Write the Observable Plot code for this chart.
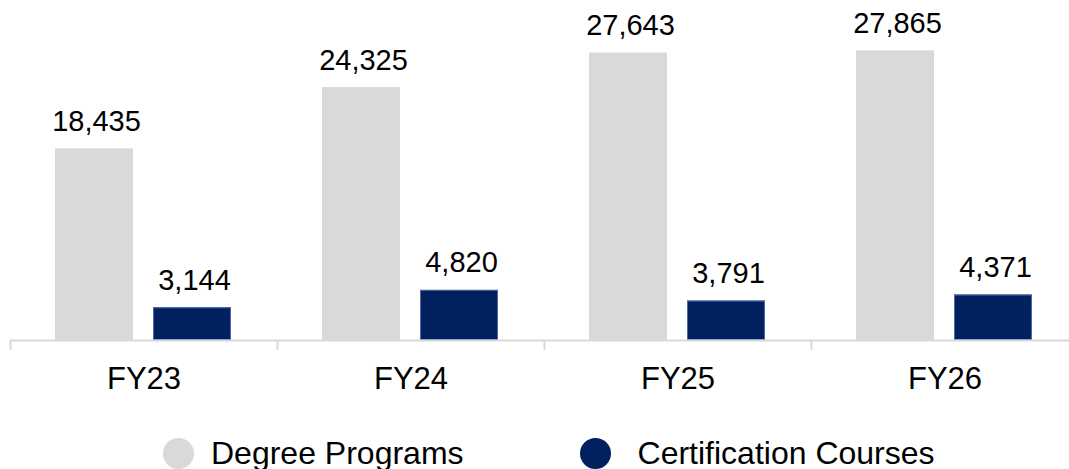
<!DOCTYPE html>
<html>
<head>
<meta charset="utf-8">
<script src="https://cdn.jsdelivr.net/npm/d3@7"></script>
<script src="https://cdn.jsdelivr.net/npm/@observablehq/plot@0.6"></script>
<style>
  html, body { margin: 0; padding: 0; background: #fff; overflow: hidden; }
  #chart svg { overflow: hidden; display: block; }
  .legend { display: flex; align-items: center; height: 44px; padding-top: 6px;
            font-family: Arial, "Liberation Sans", sans-serif; font-size: 32px; color: #000; }
  .sw { width: 31px; height: 31px; border-radius: 50%; display: inline-block; flex: none; }
</style>
</head>
<body>
<div id="chart"></div>
<div class="legend" id="legend"></div>
<script>
const years = ["FY23", "FY24", "FY25", "FY26"];
const series = ["Degree Programs", "Certification Courses"];
const degreePrograms = [18435, 24325, 27643, 27865];
const certificationCourses = [3144, 4820, 3791, 4371];
const colors = ["#d9d9d9", "#002060"];

const values = [degreePrograms, certificationCourses];
const data = years.flatMap((year, i) =>
  series.map((s, j) => ({year, series: s, value: values[j][i]}))
);
const fmt = d3.format(",");

const chart = Plot.plot({
  width: 1069,
  height: 425,
  marginLeft: 10,
  marginRight: -9,
  marginTop: 0,
  marginBottom: 85,
  style: {fontFamily: 'Arial, "Liberation Sans", sans-serif', color: "#000", background: "#fff"},
  fx: {domain: years, padding: 0, label: null, axis: null},
  x: {domain: series, paddingInner: 0.2, paddingOuter: 0.45, axis: null},
  y: {domain: [0, 32700], axis: null},
  color: {domain: series, range: colors},
  marks: [
    Plot.barY(data, {fx: "year", x: "series", y: "value", fill: "series"}),
    Plot.barY(data.filter(d => d.series === series[1]), {fx: "year", x: "series", y: "value", fill: "none", stroke: "#4d6aa3", strokeWidth: 1, inset: 0.5}),
    Plot.ruleY([0], {stroke: "#d9d9d9", strokeWidth: 2}),
    Plot.axisFx({anchor: "bottom", tickSize: 10, tickFormat: () => "", dx: -133.5, stroke: "#d9d9d9", strokeWidth: 2, label: null}),
    Plot.axisFx({anchor: "bottom", tickSize: 0, tickPadding: 26, fontSize: 31, fill: "#000", label: null}),
    Plot.text(data, {fx: "year", x: "series", y: "value", text: d => fmt(d.value), lineAnchor: "bottom", dy: -18, dx: 2, fontSize: 29, fill: "#000"})
  ]
});
document.getElementById("chart").append(chart);

const legend = document.getElementById("legend");
const layout = [{ml: 163, gap: 17}, {ml: 116, gap: 27}];
series.forEach((s, i) => {
  const sw = document.createElement("span");
  sw.className = "sw";
  sw.style.background = colors[i];
  sw.style.marginLeft = layout[i].ml + "px";
  const t = document.createElement("span");
  t.textContent = s;
  t.style.marginLeft = layout[i].gap + "px";
  legend.append(sw, t);
});
</script>
</body>
</html>
